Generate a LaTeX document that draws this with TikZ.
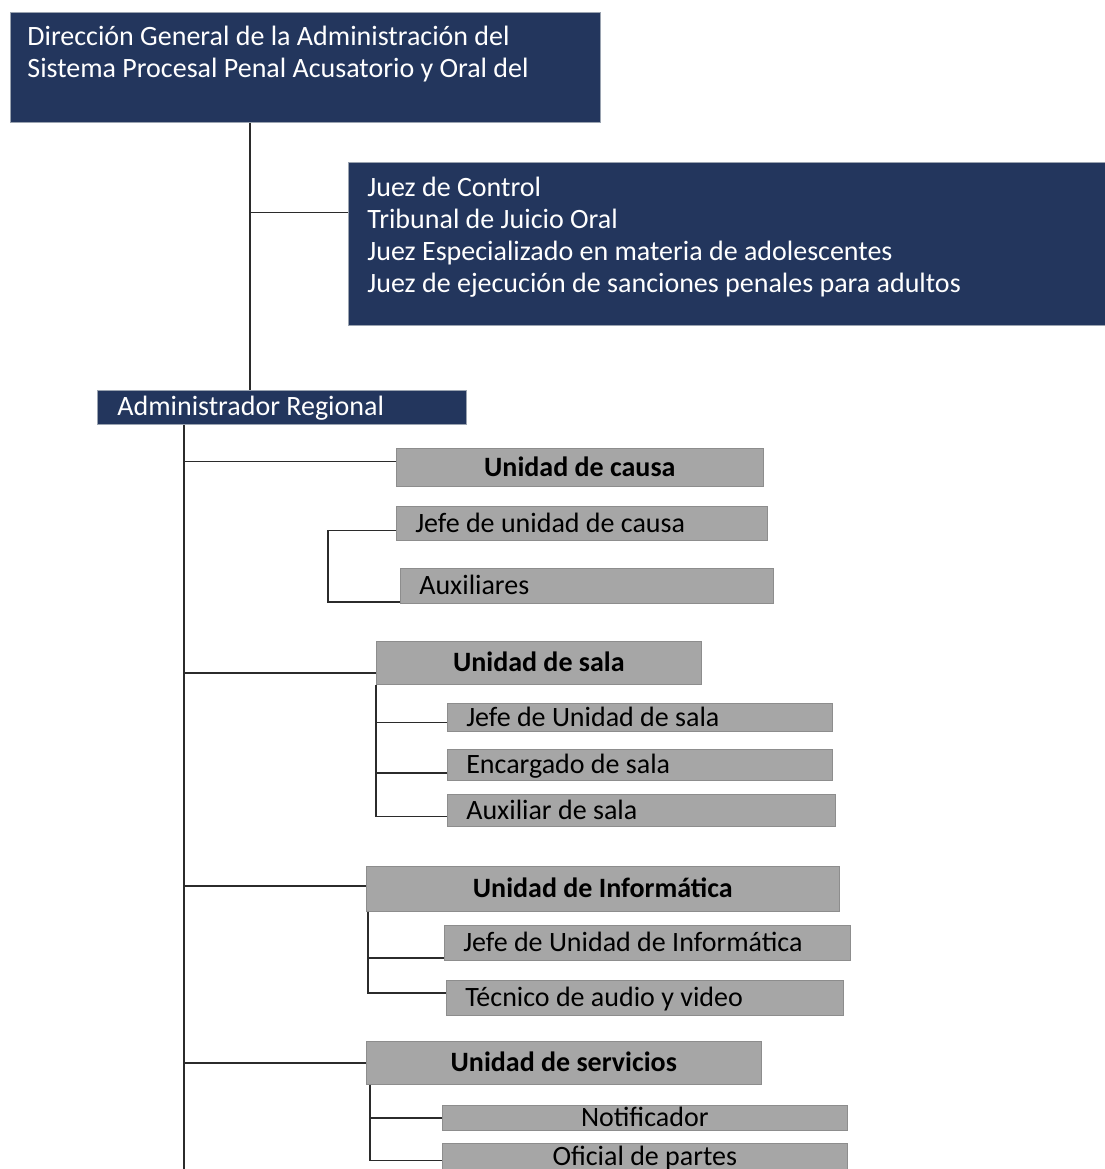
\documentclass[tikz,border=0pt]{standalone}
\usepackage{fontspec}
\setmainfont{Carlito}
\usepackage{tikz}
\usetikzlibrary{positioning}
\definecolor{orgNavy}{HTML}{23365D}
\definecolor{orgEdge}{HTML}{9AA3B0}
\definecolor{orgGray}{HTML}{A6A6A6}
\definecolor{orgLine}{HTML}{2B2B2B}
\newcommand{\orgsize}{\fontsize{28pt}{32pt}\selectfont}
\tikzset{
  orgbox/.style={anchor=north west, inner ysep=0pt, font=\orgsize},
  navybox/.style={orgbox, fill=orgNavy, draw=orgEdge, line width=0.8pt, text=white, align=flush left},
  graybox/.style={orgbox, fill=orgGray, draw=orgGray!85!black, line width=0.6pt,
    text height=18pt, text depth=0pt},
  headbox/.style 2 args={graybox, font=\orgsize\bfseries, minimum width=#1pt, minimum height=#2pt},
  itembox/.style 2 args={graybox, inner xsep=19pt, align=flush left, text width=#1pt-38pt,
    minimum width=#1pt, minimum height=#2pt},
  midbox/.style 2 args={graybox, minimum width=#1pt, minimum height=#2pt},
  link/.style={line width=1.5pt, draw=orgLine}
}
\begin{document}
\begin{tikzpicture}[x=1pt, y=-1pt]
  \useasboundingbox (0,0) rectangle (1104,1169);
  % upper part
  \node[navybox, inner xsep=17pt, text width=556pt, text height=33pt, text depth=77pt] (dir) at (10,12)
    {Dirección General de la Administración del\\Sistema Procesal Penal Acusatorio y Oral del};
  \node[navybox, inner xsep=19pt, text width=730pt, text height=34pt, text depth=129pt] (jueces) at (348,162)
    {Juez de Control\\Tribunal de Juicio Oral\\Juez Especializado en materia de adolescentes\\Juez de ejecución de sanciones penales para adultos};
  \node[navybox, inner xsep=20pt, text width=329pt, text height=25pt, text depth=9pt] (admin) at (97,390)
    {Administrador Regional};
  \coordinate (spine) at (250,0);
  \coordinate (end) at (184,1169);
  \draw[link] (dir.south -| spine) -- (admin.north -| spine);
  \draw[link] ([yshift=31.5pt]jueces.west) -- ++(-98,0);
  \draw[link] (admin.south -| end) -- (end);
  % unidad de causa
  \node[headbox={367}{38}] (ucausa) at (396,448) {Unidad de causa};
  \node[itembox={371}{34}] (jcausa) at (396,506) {Jefe de unidad de causa};
  \node[itembox={373}{35}] (auxcausa) at (400,568) {Auxiliares};
  \draw[link] ([yshift=6pt]ucausa.west) -- ++(-212,0);
  \draw[link] ([yshift=-7pt]jcausa.west) -- ++(-68,0) |- ([yshift=-16pt]auxcausa.west);
  % unidad de sala
  \node[headbox={325}{43}] (usala) at (376,641) {Unidad de sala};
  \node[itembox={385}{28}] (jsala) at (447,703) {Jefe de Unidad de sala};
  \node[itembox={385}{31}] (esala) at (447,749) {Encargado de sala};
  \node[itembox={388}{32}] (asala) at (447,794) {Auxiliar de sala};
  \draw[link] ([yshift=-10pt]usala.west) -- ++(-192,0);
  \draw[link] (usala.south west) |- ([yshift=-6pt]asala.west);
  \draw[link] ([yshift=-5pt]jsala.west) -- ++(-72,0);
  \draw[link] ([yshift=-8pt]esala.west) -- ++(-72,0);
  % unidad de informatica
  \node[headbox={473}{45}] (uinfo) at (366,866) {Unidad de Informática};
  \node[itembox={406}{35}] (jinfo) at (444,925) {Jefe de Unidad de Informática};
  \node[itembox={397}{35}] (tinfo) at (446,980) {Técnico de audio y video};
  \draw[link] ([yshift=3pt]uinfo.west) -- ++(-182,0);
  \draw[link] ([xshift=2pt]uinfo.south west) |- ([yshift=5pt]tinfo.west);
  \draw[link] ([yshift=-15pt]jinfo.west) -- ++(-76,0);
  % unidad de servicios
  \node[headbox={395}{43}] (userv) at (366,1041) {Unidad de servicios};
  \node[midbox={405}{25}] (noti) at (442,1105) {Notificador};
  \node[midbox={405}{28}, text height=17pt] (ofic) at (442,1143) {Oficial de partes};
  \draw[link] (userv.west) -- ++(-182,0);
  \draw[link] ([xshift=4pt]userv.south west) |- ([yshift=-3pt]ofic.west);
  \draw[link] (noti.west) -- ++(-72,0);
\end{tikzpicture}
\end{document}
